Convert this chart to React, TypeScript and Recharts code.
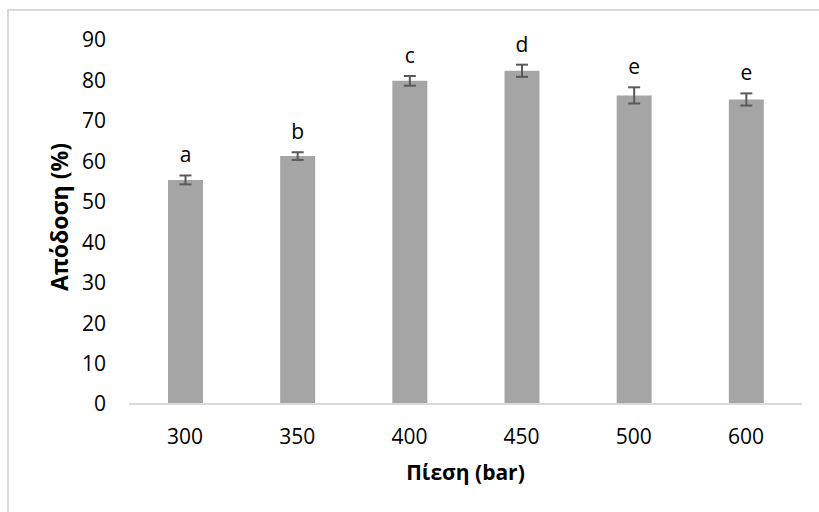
import React from 'react';
import { BarChart, Bar, XAxis, YAxis, ErrorBar, LabelList } from 'recharts';

const pressures = ['300', '350', '400', '450', '500', '600'];
const yields = [55.4, 61.3, 79.9, 82.4, 76.3, 75.3];
const errors = [1.1, 0.95, 1.2, 1.5, 2.0, 1.5];
const letters = ['a', 'b', 'c', 'd', 'e', 'e'];
const yTicks = [0, 10, 20, 30, 40, 50, 60, 70, 80, 90];

const data = pressures.map((p, i) => ({
  pressure: p,
  value: yields[i],
  err: errors[i],
  letter: letters[i],
}));

const FONT = '"Open Sans", sans-serif';

// significance letter sits above the top cap of each error bar
const LetterLabel = (props: any) => {
  const { x, y, width, height, value, index } = props;
  const v = yields[index];
  const errPx = v ? (errors[index] * height) / v : 0;
  return (
    <text
      x={x + width / 2}
      y={y - errPx - 13}
      textAnchor="middle"
      fontFamily={FONT}
      fontSize={21}
      fill="#000"
    >
      {value}
    </text>
  );
};

const YTitle = (props: any) => {
  const { x, y, height } = props.viewBox;
  const cx = x + 59;
  const cy = y + height / 2 - 5;
  return (
    <text
      x={cx}
      y={cy}
      transform={`rotate(-90, ${cx}, ${cy})`}
      textAnchor="middle"
      dominantBaseline="central"
      fontFamily={FONT}
      fontWeight="bold"
      fontSize={23}
      fill="#000"
    >
      Απόδοση (%)
    </text>
  );
};

const XTitle = (props: any) => {
  const { x, y, width } = props.viewBox;
  return (
    <text
      x={x + width / 2}
      y={y + 76}
      textAnchor="middle"
      fontFamily={FONT}
      fontWeight="bold"
      fontSize={21}
      fill="#000"
    >
      Πίεση (bar)
    </text>
  );
};

export default function App() {
  return (
    <div
      style={{
        position: 'absolute',
        left: 0,
        top: 0,
        width: 819,
        height: 512,
        overflow: 'hidden',
        background: '#fff',
      }}
    >
      <div
        style={{
          position: 'absolute',
          left: 7,
          top: 9,
          width: 900,
          height: 600,
          border: '2px solid #d9d9d9',
        }}
      />
      <div style={{ position: 'absolute', left: 0, top: 0 }}>
        <BarChart
          width={819}
          height={512}
          data={data}
          margin={{ top: 40, right: 17, left: 0, bottom: 0 }}
        >
          <XAxis
            dataKey="pressure"
            height={108}
            axisLine={{ stroke: '#d9d9d9', strokeWidth: 2 }}
            tickLine={false}
            tickMargin={19}
            tick={{ fontFamily: FONT, fontSize: 21, fill: '#000' }}
            label={<XTitle />}
          />
          <YAxis
            width={129}
            domain={[0, 90]}
            ticks={yTicks}
            axisLine={false}
            tickLine={false}
            tickMargin={17}
            tick={{ fontFamily: FONT, fontSize: 21, fill: '#000' }}
            label={<YTitle />}
          />
          <Bar dataKey="value" fill="#a5a5a5" barSize={35} isAnimationActive={false}>
            <ErrorBar dataKey="err" width={6} stroke="#595959" strokeWidth={2} />
            <LabelList dataKey="letter" content={<LetterLabel />} />
          </Bar>
        </BarChart>
      </div>
    </div>
  );
}
